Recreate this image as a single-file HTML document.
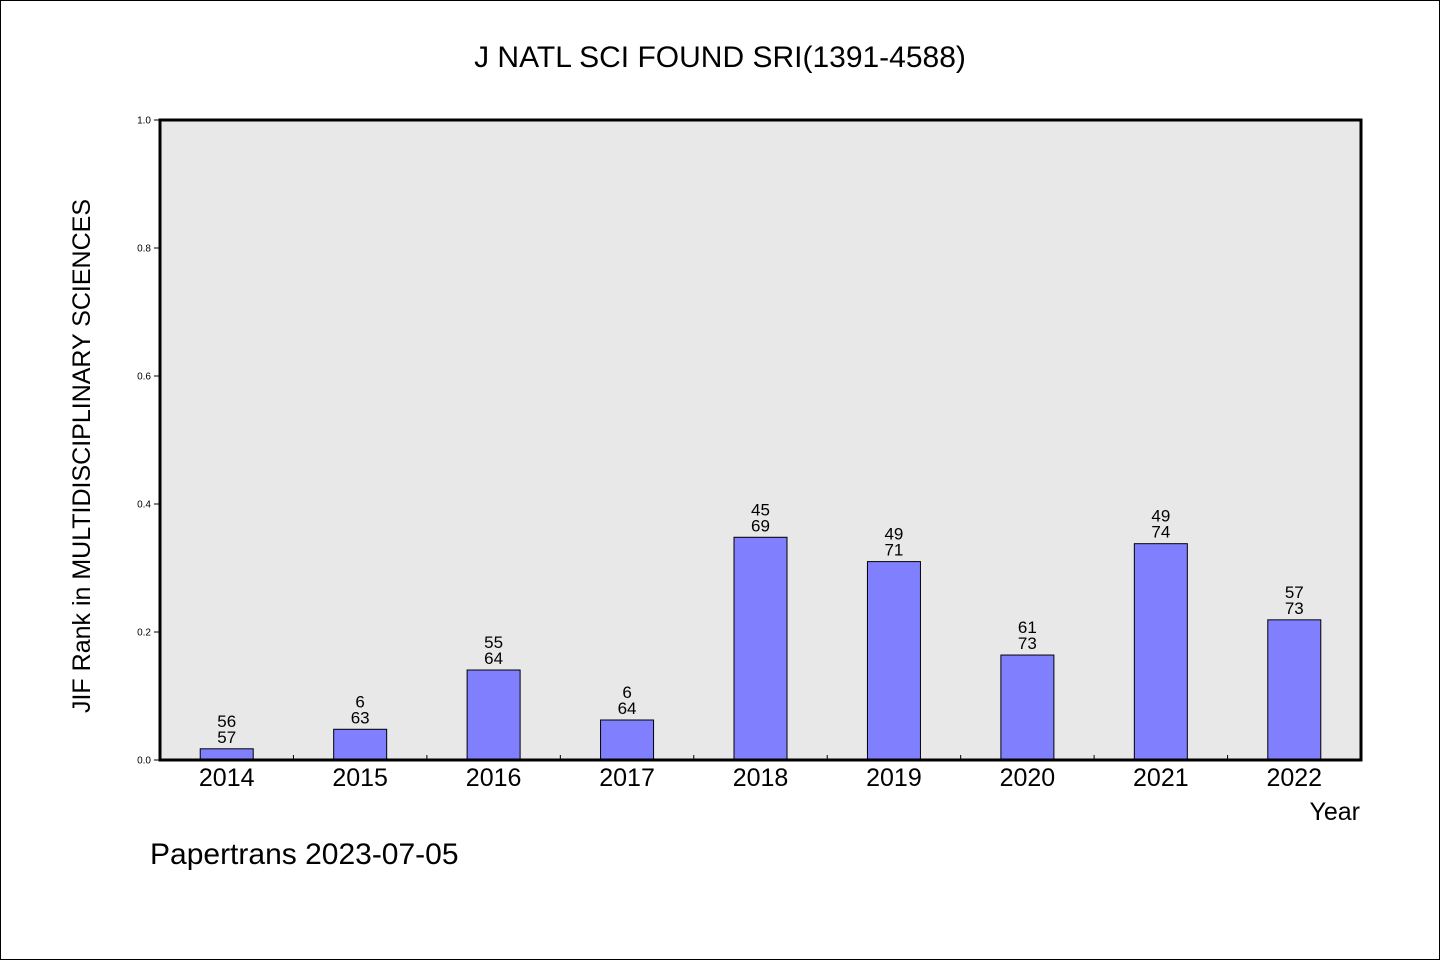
<!DOCTYPE html>
<html><head><meta charset="utf-8"><style>
body{margin:0;background:#fff}
svg text{font-family:"WenQuanYi Zen Hei","Liberation Sans",sans-serif}
</style></head><body>
<svg width="1440" height="960" xmlns="http://www.w3.org/2000/svg" id="chart">
<rect x="0.5" y="0.5" width="1439" height="959" fill="#fff" stroke="#000"/>
<text x="720" y="67" font-size="30" text-anchor="middle">J NATL SCI FOUND SRI(1391-4588)</text>
<rect x="160" y="120" width="1201" height="640" fill="#e8e8e8"/>
<g id="bars"></g>
<rect x="160" y="120" width="1201" height="640" fill="none" stroke="#000" stroke-width="3"/>
<g id="axes"></g>
<text transform="translate(90,456) rotate(-90)" font-size="25" text-anchor="middle">JIF Rank in MULTIDISCIPLINARY SCIENCES</text>
<text x="1360" y="820" font-size="25" text-anchor="end">Year</text>
<text x="150" y="864" font-size="30">Papertrans 2023-07-05</text>
</svg>
<script>
const years=["2014","2015","2016","2017","2018","2019","2020","2021","2022"];
const values=[0.0175,0.048,0.1406,0.0625,0.348,0.31,0.164,0.338,0.219];
const labelTop=["56","6","55","6","45","49","61","49","57"];
const labelBottom=["57","63","64","64","69","71","73","74","73"];
const yTicks=[0,0.2,0.4,0.6,0.8,1.0];
const X0=160,W=1201,Y0=760,H=640;
const ns="http://www.w3.org/2000/svg";
const step=W/years.length;
const xc=i=>X0+step*(i+0.5);
const y=v=>Y0-v*H;
function mk(t,a){const e=document.createElementNS(ns,t);for(const k in a)e.setAttribute(k,a[k]);return e;}
const bars=document.getElementById('bars'),axes=document.getElementById('axes');
years.forEach((yr,i)=>{
  const r=mk('rect',{x:xc(i)-26.5,y:y(values[i]),width:53,height:Y0-y(values[i]),fill:'#8080ff',stroke:'#000','stroke-width':1});
  
  
  bars.appendChild(r);
  const t1=mk('text',{x:xc(i),y:y(values[i])-22,'font-size':17,'text-anchor':'middle'});t1.textContent=labelTop[i];
  
  
  bars.appendChild(t1);
  const t2=mk('text',{x:xc(i),y:y(values[i])-6,'font-size':17,'text-anchor':'middle'});t2.textContent=labelBottom[i];
  
  
  bars.appendChild(t2);
  const xl=mk('text',{x:xc(i),y:786,'font-size':25,'text-anchor':'middle'});xl.textContent=yr;
  
  
  axes.appendChild(xl);
  if(i>0){const tk=mk('line',{x1:X0+step*i,x2:X0+step*i,y1:Y0,y2:Y0-5,stroke:'#000'});
  
  
  axes.appendChild(tk);}
});
yTicks.forEach(v=>{
  const tk=mk('line',{x1:X0-6,x2:X0,y1:y(v),y2:y(v),stroke:'#000'});
  
  
  axes.appendChild(tk);
  const t=mk('text',{x:X0-9,y:y(v)+3.5,'font-size':10,'text-anchor':'end'});t.textContent=v.toFixed(1);
  
  
  axes.appendChild(t);
});
</script>
</body></html>
